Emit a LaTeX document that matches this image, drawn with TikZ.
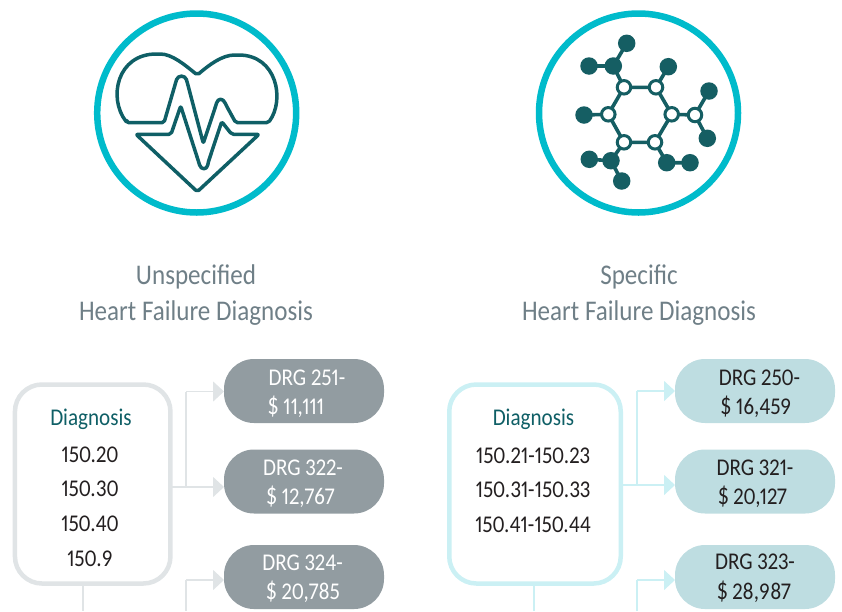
\documentclass[tikz,border=0pt]{standalone}
\usepackage{fontspec}
\setmainfont[FakeStretch=0.88,Numbers=Proportional]{Carlito}
\usetikzlibrary{arrows.meta}
\definecolor{ringc}{HTML}{00BBCB}
\definecolor{teal}{HTML}{0F5F66}
\definecolor{atomc}{HTML}{155E63}
\definecolor{headc}{HTML}{6F7F87}
\definecolor{greyl}{HTML}{E0E4E6}
\definecolor{greyp}{HTML}{929CA1}
\definecolor{cyanl}{HTML}{CBF0F4}
\definecolor{cyanp}{HTML}{BEDDE1}
\definecolor{inkc}{HTML}{231F20}
\tikzset{
 x=1pt,y=-1pt,
 every node/.style={inner sep=0pt,outer sep=0pt,font=\fontsize{24}{24}\selectfont,anchor=base},
 ringo/.style={circle,draw=ringc,line width=6.5pt,minimum size=199pt,anchor=center},
 icon/.style={draw=teal,line width=3.5pt,line join=round,rounded corners=2pt},
 bond/.style={draw=atomc,line width=3.6pt},
 atom/.style={circle,fill=atomc,minimum size=17.5pt,anchor=center},
 hollow/.style={circle,draw=atomc,fill=white,line width=3pt,minimum size=13.5pt,anchor=center},
 headt/.style={text=headc,font=\fontsize{28.5}{28.5}\selectfont},
 diagt/.style={text=teal},
 numt/.style={text=inkc},
 dbox/.style={draw,fill=white,line width=4.5pt,rounded corners=27pt,minimum width=155.5pt,minimum height=199pt,anchor=center},
 pill/.style={rounded corners=30pt,minimum width=160pt,minimum height=64pt,anchor=center},
 gpill/.style={pill,fill=greyp},
 cpill/.style={pill,fill=cyanp},
 glink/.style={draw=greyl,line width=1.6pt},
 clink/.style={draw=cyanl,line width=1.6pt},
 garrow/.style={glink,-{Triangle[length=11pt,width=20pt,fill=greyl]}},
 carrow/.style={clink,-{Triangle[length=11pt,width=20pt,fill=cyanl]}},
 whitet/.style={text=white},
}
\begin{document}
\begin{tikzpicture}
\useasboundingbox (0,0) rectangle (842,611);
% circles
\node[ringo] (c1) at (196.7,113) {};
\node[ringo] (c2) at (638.5,113) {};
% heart
\draw[icon] (127,122.7) -- (164,122.7) -- (176,81.5)
  .. controls (178,75) and (185,75) .. (187,81.5)
  -- (203.3,143.3) -- (216,105)
  .. controls (218,98) and (223,98) .. (226,105)
  -- (235.7,122.7) -- (268.3,122.7)
  .. controls (285,100) and (277,55) .. (236.7,55)
  .. controls (222,55) and (209,65) .. (197.3,75)
  .. controls (185,65) and (172,54) .. (158.3,54)
  .. controls (117,54) and (108,98) .. (127,122.7) -- cycle;
\draw[icon] (136,134.3) -- (171,134.3) -- (180.7,106) -- (199,163)
  .. controls (201,170) and (207,170) .. (208,163)
  -- (221.7,121.7) -- (231.7,134.3) -- (259,134.3) -- (197.3,191.7) -- cycle;
% molecule
\foreach \n/\x/\y in {r1/624/87.3,r2/656/87.3,r3/671.7/114.3,r4/655/142.3,r5/624/142.3,r6/608.3/114.3,s1/695/115}
  \coordinate (\n) at (\x,\y);
\foreach \n/\x/\y in {a1/626.7/43.3,a2/613.3/66,a3/589/66,a4/668.3/66.7,a5/709/91,a6/707.3/138.3,a7/584/115,a8/666.7/162.7,a9/690/162.7,a10/611/160.7,a11/589.3/159.3,a12/621.7/181}
  \coordinate (\n) at (\x,\y);
\draw[bond] (r1)--(r2)--(r3)--(r4)--(r5)--(r6)--cycle;
\draw[bond] (r3)--(s1) (s1)--(a5) (s1)--(a6) (r1)--(a2) (a2)--(a1) (a2)--(a3) (r2)--(a4) (r6)--(a7) (r4)--(a8) (a8)--(a9) (r5)--(a10) (a10)--(a11) (a10)--(a12);
\foreach \n in {a1,a2,a3,a4,a5,a6,a7,a8,a9,a10,a11,a12} \node[atom] (n\n) at (\n) {};
\foreach \n in {r1,r2,r3,r4,r5,r6,s1} \node[hollow] (n\n) at (\n) {};
% headings
\node[headt] (h1) at (196,284) {Unspecified};
\node[headt] (h2) at (196,320) {Heart Failure Diagnosis};
\node[headt] (h3) at (639,284) {Specific};
\node[headt] (h4) at (639,320) {Heart Failure Diagnosis};
% connectors and boxes left
\coordinate (gb) at (83,611);
\coordinate (gj1) at (186,391.5);
\coordinate (gj2) at (186,487);
\coordinate (gj3) at (186,611);
\coordinate (gj4) at (186,580);
\coordinate (cb) at (534,611);
\coordinate (cj1) at (637,391);
\coordinate (cj2) at (637,485);
\coordinate (cj3) at (637,611);
\coordinate (cj4) at (637,580);
\node[gpill] (g1) at (304,391) {};
\node[gpill] (g2) at (304,481.5) {};
\node[gpill] (g3) at (304,577) {};
\node[cpill] (p1) at (755,391) {};
\node[cpill] (p2) at (755,481.5) {};
\node[cpill] (p3) at (755,577) {};
\node[dbox,draw=greyl] (d1) at (92.7,484) {};
\node[dbox,draw=cyanl,minimum width=171.5pt] (d2) at (535,484) {};
\draw[glink] (d1.south -| gb) -- (gb);
\draw[clink] (d2.south -| cb) -- (cb);
\draw[glink] (gj2) -- (gj1);
\draw[garrow] (gj1) -- (gj1 -| g1.west);
\draw[garrow] (d1.east |- gj2) -- (gj2 -| g2.west);
\draw[glink] (gj3) -- (gj4);
\draw[garrow] (gj4) -- (gj4 -| g3.west);
\draw[clink] (cj2) -- (cj1);
\draw[carrow] (cj1) -- (cj1 -| p1.west);
\draw[carrow] (d2.east |- cj2) -- (cj2 -| p2.west);
\draw[clink] (cj3) -- (cj4);
\draw[carrow] (cj4) -- (cj4 -| p3.west);
% left text
\node[diagt] (t1) at (91,425) {Diagnosis};
\node[numt] (t2) at (90,462) {150.20};
\node[numt] (t3) at (90,496) {150.30};
\node[numt] (t4) at (90,531) {150.40};
\node[numt] (t5) at (90,566) {150.9};
\node[whitet] (u1) at (307,385) {DRG 251-};
\node[whitet] (u2) at (296,414) {\$ 11,111};
\node[whitet] (u3) at (303,475) {DRG 322-};
\node[whitet] (u4) at (300.5,504) {\$ 12,767};
\node[whitet] (u5) at (302.5,570) {DRG 324-};
\node[whitet] (u6) at (303,599) {\$ 20,785};
% right text
\node[diagt] (t6) at (533.5,425) {Diagnosis};
\node[numt] (t7) at (533,463) {150.21-150.23};
\node[numt] (t8) at (533,497) {150.31-150.33};
\node[numt] (t9) at (533,532) {150.41-150.44};
\node[numt] (v1) at (759.5,385) {DRG 250-};
\node[numt] (v2) at (756,414) {\$ 16,459};
\node[numt] (v3) at (755,475) {DRG 321-};
\node[numt] (v4) at (752.5,504) {\$ 20,127};
\node[numt] (v5) at (755,569) {DRG 323-};
\node[numt] (v6) at (754,599) {\$ 28,987};
\end{tikzpicture}
\end{document}
